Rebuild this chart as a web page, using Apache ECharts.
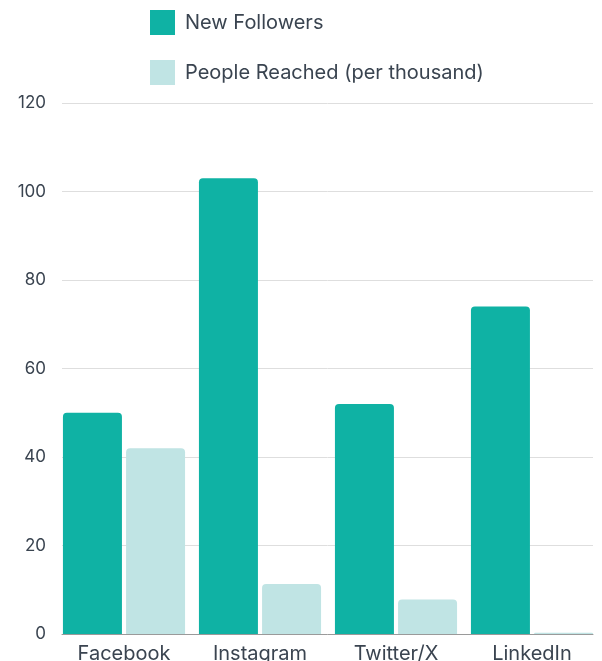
<!DOCTYPE html>
<html>
<head>
<meta charset="utf-8">
<script src="https://cdn.jsdelivr.net/npm/echarts@6/dist/echarts.min.js"></script>
<style>
html,body{margin:0;padding:0;background:#fff;}
#chart{width:602px;height:661px;}
</style>
</head>
<body>
<div id="chart"></div>
<script>
const categories = ['Facebook', 'Instagram', 'Twitter/X', 'LinkedIn'];
const newFollowers = [50, 103, 52, 74];
const peopleReached = [42, 11.3, 7.8, 0.3];
const yTicks = { min: 0, max: 120, interval: 20 };

const textColor = '#3a4450';
const font = 'Inter';

const chart = echarts.init(document.getElementById('chart'), null, { renderer: 'canvas' });
chart.setOption({
  animation: false,
  legend: {
    orient: 'vertical',
    left: 145,
    top: 5,
    itemWidth: 25,
    itemHeight: 25,
    itemGap: 25,
    icon: 'rect',
    textStyle: { color: textColor, fontSize: 20, fontFamily: font, padding: [0, 0, 0, 5] },
    data: ['New Followers', 'People Reached (per thousand)']
  },
  grid: [
    { left: 56, right: 2, top: 103, bottom: 27, outerBoundsMode: 'none', containLabel: false },
    { left: 62, right: 9, top: 103, bottom: 27, outerBoundsMode: 'none', containLabel: false }
  ],
  xAxis: [
    {
      type: 'category', gridIndex: 0, data: categories,
      axisLine: { show: false }, axisTick: { show: false },
      axisLabel: { color: textColor, fontSize: 20, fontFamily: font, margin: 10 }
    },
    {
      type: 'category', gridIndex: 1, data: categories,
      axisLine: { show: true, lineStyle: { color: '#9a9a9a', width: 1 } },
      axisTick: { show: false }, axisLabel: { show: false }
    }
  ],
  yAxis: [
    {
      type: 'value', gridIndex: 0, min: yTicks.min, max: yTicks.max, interval: yTicks.interval,
      axisLabel: { show: false }, splitLine: { show: false }, axisLine: { show: false }
    },
    {
      type: 'value', gridIndex: 1, min: yTicks.min, max: yTicks.max, interval: yTicks.interval,
      axisLine: { show: false }, axisTick: { show: false },
      axisLabel: { color: textColor, fontSize: 17, fontFamily: font, margin: 16 },
      splitLine: { lineStyle: { color: '#dedede', width: 1 } }
    }
  ],
  series: [
    {
      name: 'New Followers', type: 'bar', xAxisIndex: 0, yAxisIndex: 0,
      data: newFollowers, barWidth: 59, barGap: '7%',
      itemStyle: { color: '#0fb2a4', borderRadius: [4, 4, 0, 0] }
    },
    {
      name: 'People Reached (per thousand)', type: 'bar', xAxisIndex: 0, yAxisIndex: 0,
      data: peopleReached, barWidth: 59, barGap: '7%',
      itemStyle: { color: '#c0e4e4', borderRadius: [4, 4, 0, 0] }
    }
  ]
});
</script>
</body>
</html>
